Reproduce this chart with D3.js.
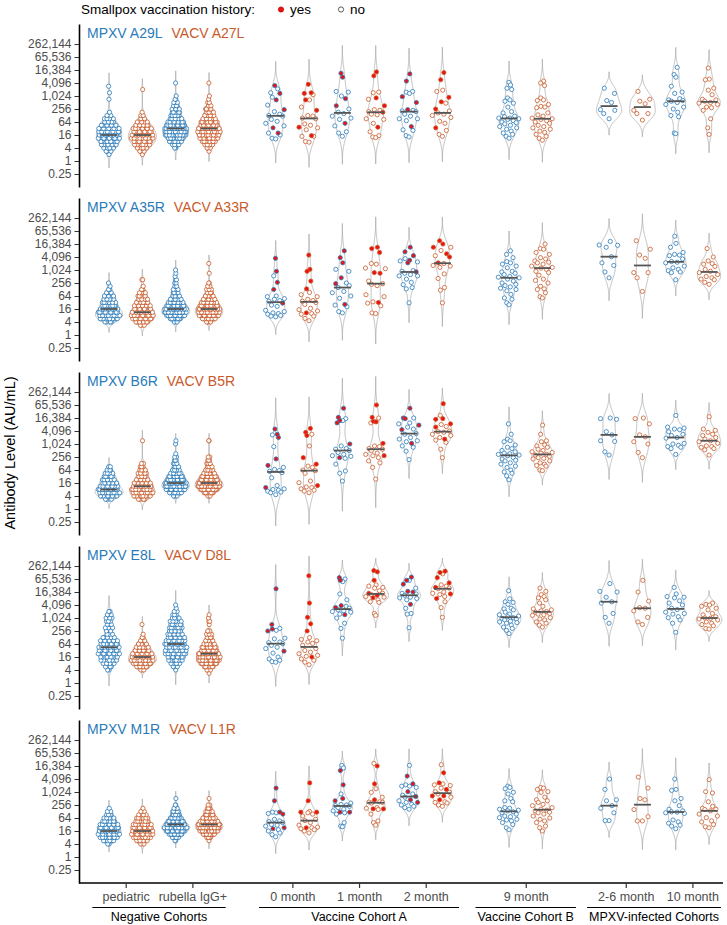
<!DOCTYPE html>
<html>
<head>
<meta charset="utf-8">
<script src="https://cdn.jsdelivr.net/npm/d3@7"></script>
<style>
  body { margin: 0; background: #fff; }
  svg { display: block; font-family: "Liberation Sans", Arial, sans-serif; }
</style>
</head>
<body>
<div id="chart"></div>
<script>
// Antibody levels (AU/mL) per antigen, cohort and time point.
// All values are stored as log2(AU/mL).

const categories = ['pediatric', 'rubella IgG+', '0 month', '1 month', '2 month', '9 month', '2-6 month', '10 month'];
const cohortNames = ['Negative Cohorts', 'Vaccine Cohort A', 'Vaccine Cohort B', 'MPXV-infected Cohorts'];
const cohortSizes = [2, 3, 1, 2];
const mpxvAntigens = ['MPXV A29L', 'MPXV A35R', 'MPXV B6R', 'MPXV E8L', 'MPXV M1R'];
const vacvAntigens = ['VACV A27L', 'VACV A33R', 'VACV B5R', 'VACV D8L', 'VACV L1R'];
const yTickValues = [0.25, 1, 4, 16, 64, 256, 1024, 4096, 16384, 65536, 262144];
const legendLabels = ['yes', 'no'];

// Negative cohorts: number of samples per half-log2 bin, first bin at log2 = 1.
// order: pediatric MPXV, pediatric VACV, rubella MPXV, rubella VACV
const negBinStart = 1;
const negBinStep = 0.5;
const negA29L = [
  [1, 3, 5, 7, 9, 10, 10, 10, 9, 8, 6, 4, 2, 1, 0, 0, 0, 1, 0, 1, 0, 1],
  [1, 3, 5, 8, 10, 11, 11, 10, 9, 7, 5, 3, 2, 1, 0, 0, 0, 0, 0, 0, 1],
  [0, 0, 2, 5, 9, 13, 16, 17, 16, 14, 11, 8, 7, 6, 5, 4, 3, 2, 1, 0, 0, 0, 1],
  [0, 1, 3, 6, 10, 13, 15, 16, 16, 14, 11, 9, 7, 6, 5, 3, 2, 1, 1, 0, 0, 0, 1],
];
const negA35R = [
  [0, 0, 5, 12, 14, 12, 10, 8, 7, 6, 6, 4, 2, 1, 1],
  [0, 3, 8, 12, 13, 12, 10, 8, 7, 6, 5, 4, 2, 1, 0, 2],
  [0, 0, 3, 10, 18, 22, 20, 16, 13, 10, 7, 5, 4, 3, 2, 2, 1, 1, 1],
  [0, 0, 4, 12, 18, 20, 19, 16, 13, 10, 8, 5, 4, 3, 2, 0, 0, 1, 0, 0, 1],
];
const negB6R = [
  [0, 4, 12, 15, 13, 10, 9, 8, 6, 5, 3, 2],
  [0, 5, 12, 14, 14, 10, 9, 8, 6, 5, 4, 3, 2, 0, 0, 0, 0, 0, 0, 1],
  [0, 0, 4, 12, 18, 22, 20, 16, 13, 10, 7, 5, 4, 3, 2, 1, 0, 0, 1, 1],
  [0, 0, 3, 10, 17, 22, 21, 17, 14, 10, 8, 5, 4, 3, 2, 0, 0, 0, 0, 2],
];
const negE8L = [
  [0, 0, 2, 3, 5, 7, 8, 9, 9, 9, 8, 7, 5, 3, 2, 3, 3, 3, 3, 3, 2],
  [0, 0, 3, 8, 12, 15, 14, 12, 10, 8, 6, 4, 2, 1, 0, 0, 1],
  [0, 0, 1, 3, 5, 8, 10, 12, 12, 12, 12, 11, 9, 8, 7, 7, 7, 6, 5, 3, 2, 1, 1],
  [0, 1, 3, 8, 14, 18, 19, 17, 14, 11, 9, 6, 5, 4, 3, 0, 1, 2, 1, 1],
];
const negM1R = [
  [0, 0, 2, 7, 11, 13, 13, 12, 10, 8, 6, 4, 2, 1],
  [0, 0, 3, 7, 11, 13, 13, 12, 10, 8, 7, 5, 3, 1],
  [0, 0, 0, 2, 7, 14, 20, 26, 21, 16, 12, 8, 6, 4, 2, 0, 1],
  [0, 0, 0, 1, 5, 12, 19, 24, 23, 18, 13, 9, 6, 4, 2, 0, 1],
];

// Vaccine / infected cohorts, donors without smallpox vaccination history.
// order: 0mo MPXV, 0mo VACV, 1mo MPXV, 1mo VACV, 2mo MPXV, 2mo VACV,
//        9mo MPXV, 9mo VACV, 2-6mo MPXV, 2-6mo VACV, 10mo MPXV, 10mo VACV
const openA29L = [
  [11.1, 10.5, 9.8, 8.6, 7.6, 7.2, 7.0, 6.9, 6.4, 6.1, 5.8, 5.4, 4.3, 4.0, 3.5, 3.4],
  [10.2, 9.4, 8.3, 7.0, 6.9, 6.6, 6.5, 5.7, 5.5, 5.1, 4.8, 3.8, 3.8, 3.0, 2.9],
  [10.7, 10.6, 10.0, 8.0, 7.5, 7.3, 6.9, 6.6, 6.4, 5.4, 4.5, 4.3, 3.8],
  [10.6, 10.5, 9.5, 7.9, 7.8, 7.6, 7.2, 7.1, 6.5, 6.4, 5.8, 4.5, 3.9, 3.7, 3.6],
  [10.7, 10.6, 10.4, 7.8, 7.7, 7.6, 7.2, 6.9, 6.5, 6.5, 6.2, 4.8, 4.7, 3.9, 3.7],
  [10.9, 10.7, 8.9, 7.7, 7.4, 7.2, 7.0, 6.7, 6.1, 5.8, 4.7, 4.1, 3.8],
  [12.1, 11.7, 11.2, 11.0, 9.7, 9.4, 9.2, 8.9, 8.3, 7.6, 7.4, 6.9, 6.8, 6.6, 6.6, 6.5, 6.4, 6.2, 6.0, 5.9, 5.7, 5.5, 5.3, 5.1, 4.9, 4.6, 4.3, 4.1, 3.8, 3.5],
  [12.3, 12.0, 11.6, 9.7, 9.4, 9.3, 8.7, 8.4, 8.3, 8.2, 7.4, 7.1, 6.9, 6.6, 6.5, 6.4, 6.2, 6.0, 5.8, 5.5, 5.3, 5.1, 4.9, 4.6, 4.4, 4.1, 3.8, 3.5, 3.2],
  [11.2, 10.4, 9.3, 9.0, 7.9, 7.8, 7.3, 6.5],
  [10.7, 9.5, 9.2, 8.8, 7.8, 7.3, 7.3, 6.3],
  [14.4, 13.3, 12.9, 11.5, 10.6, 10.4, 9.6, 9.4, 9.3, 9.2, 9.0, 8.7, 8.3, 8.0, 7.5, 7.0, 6.8, 4.3, 4.2],
  [14.3, 12.6, 12.5, 11.2, 10.9, 10.2, 9.5, 9.4, 9.2, 9.0, 8.9, 8.7, 8.3, 8.2, 7.8, 6.5, 5.1, 4.1],
];
const openA35R = [
  [9.1, 6.0, 5.9, 5.6, 5.5, 5.3, 5.2, 4.6, 4.4, 3.8, 3.6, 3.4, 3.3, 3.2, 3.0, 2.9, 2.8],
  [6.55, 6.2, 5.9, 5.5, 5.3, 5.2, 5.0, 4.7, 4.1, 3.9, 3.7, 3.3, 3.2, 2.9, 2.55, 2.2],
  [10.1, 9.8, 8.0, 7.6, 7.3, 6.7, 6.5, 6.0, 5.65, 4.6, 4.35, 3.6, 3.4],
  [11.0, 10.9, 10.3, 10.2, 8.3, 7.9, 7.8, 7.6, 6.2, 5.9, 5.1, 4.9, 4.5, 3.4, 3.3],
  [11.75, 11.4, 11.25, 9.9, 9.8, 9.5, 9.3, 9.1, 9.1, 8.6, 8.1, 7.75, 7.3, 7.1, 4.95],
  [13.5, 13.0, 12.2, 11.0, 10.7, 10.6, 10.4, 9.4, 8.7, 7.3, 6.9, 4.95],
  [12.95, 12.4, 11.9, 11.3, 11.1, 10.9, 10.6, 10.35, 9.8, 9.7, 9.5, 9.3, 9.0, 8.9, 8.8, 8.6, 8.3, 8.0, 7.8, 7.6, 7.4, 7.2, 7.0, 6.8, 6.25, 5.7, 5.5, 4.95, 4.65],
  [14.0, 13.3, 13.2, 12.7, 12.4, 11.9, 11.7, 11.4, 11.2, 11.1, 10.9, 10.6, 10.4, 10.3, 10.1, 9.8, 9.6, 9.2, 8.6, 8.4, 8.0, 7.5, 7.1, 7.0, 6.5, 5.9, 5.7],
  [14.4, 13.85, 13.8, 13.5, 12.05, 11.1, 10.7, 9.7, 8.8],
  [14.5, 13.2, 12.3, 11.8, 9.6, 9.6, 8.8, 6.7],
  [15.2, 14.1, 13.5, 12.7, 12.4, 12.3, 12.2, 11.7, 11.3, 11.2, 11.1, 10.6, 10.35, 10.1, 9.9, 9.7, 9.6, 8.5],
  [13.3, 12.0, 11.4, 11.0, 10.9, 10.55, 10.1, 9.8, 9.6, 9.3, 9.0, 8.8, 8.6, 8.5, 8.1, 7.8],
];
const openB6R = [
  [11.4, 9.6, 6.4, 6.1, 5.9, 5.8, 5.6, 4.8, 3.6, 3.1, 3.0, 2.9, 2.75, 2.6, 2.5, 2.2],
  [11.5, 9.7, 6.6, 6.4, 6.0, 5.9, 5.5, 4.3, 4.05, 3.4, 3.3, 3.1, 2.9, 2.75, 2.5],
  [13.9, 13.6, 9.7, 9.3, 9.2, 9.0, 8.7, 8.4, 8.2, 8.1, 7.8, 6.9, 5.85, 5.5, 4.3],
  [14.0, 13.25, 9.7, 9.6, 9.3, 9.2, 9.0, 8.6, 8.4, 8.2, 7.9, 7.4, 7.1, 6.4, 4.6],
  [14.0, 13.25, 13.1, 12.6, 12.3, 11.6, 11.5, 11.0, 10.75, 10.5, 10.35, 9.7, 9.5, 8.9, 7.6],
  [14.4, 13.0, 12.7, 12.0, 11.9, 11.8, 11.5, 11.3, 11.0, 10.6, 10.25, 9.2, 7.9],
  [13.1, 11.5, 10.75, 10.5, 10.35, 9.85, 9.5, 9.3, 9.0, 8.8, 8.6, 8.5, 8.4, 8.3, 8.2, 7.9, 7.7, 7.5, 7.4, 7.1, 6.9, 6.6, 6.4, 6.0, 5.7, 5.5, 5.1, 4.5],
  [12.9, 11.5, 10.5, 10.35, 9.85, 9.7, 9.5, 9.2, 9.0, 8.8, 8.7, 8.6, 8.4, 8.3, 8.1, 7.9, 7.8, 7.7, 7.4, 7.1, 6.9, 6.7, 6.6, 6.0, 5.9],
  [14.0, 13.9, 13.8, 11.9, 11.4, 10.5, 10.4, 8.8, 8.3],
  [14.0, 13.9, 13.1, 11.4, 11.1, 10.35, 10.0, 8.7, 7.9],
  [14.4, 12.6, 12.45, 12.3, 12.2, 11.9, 11.5, 11.3, 11.0, 10.9, 10.1, 10.0, 9.8, 9.6, 9.5, 9.3, 8.4],
  [14.2, 12.3, 12.1, 11.8, 11.5, 11.3, 11.0, 10.75, 10.5, 10.35, 10.1, 9.7, 9.6, 9.5, 9.3, 9.1, 8.3],
];
const openE8L = [
  [8.4, 8.1, 6.9, 6.8, 6.3, 6.2, 6.05, 5.8, 5.5, 5.3, 4.6, 4.0, 3.7, 3.5, 3.3, 3.2],
  [7.0, 6.7, 6.5, 6.3, 6.1, 5.8, 5.3, 5.0, 4.75, 4.5, 4.25, 4.1, 3.7, 3.5, 3.2, 2.8],
  [16.0, 15.6, 13.7, 12.8, 11.8, 11.5, 11.25, 11.1, 11.0, 10.9, 10.6, 10.0, 9.2, 8.4, 6.9],
  [15.1, 14.9, 14.7, 14.6, 14.2, 13.8, 13.6, 13.3, 13.2, 12.8, 12.5, 12.4, 10.7, 10.4],
  [15.8, 14.6, 13.8, 13.7, 13.5, 13.2, 13.1, 13.0, 12.8, 11.5, 10.7, 10.6, 8.5],
  [16.8, 15.1, 14.9, 14.6, 14.5, 14.0, 13.8, 13.6, 13.3, 12.5, 11.6, 10.1],
  [14.2, 12.95, 12.5, 12.4, 12.1, 11.5, 11.4, 11.25, 10.9, 10.6, 10.5, 10.3, 10.2, 10.05, 9.95, 9.85, 9.7, 9.5, 9.4, 9.3, 9.2, 8.9, 8.6, 8.4, 8.1, 7.6],
  [14.6, 14.1, 13.6, 13.3, 13.1, 12.8, 12.3, 11.8, 11.4, 11.25, 11.1, 11.0, 10.9, 10.7, 10.6, 10.5, 10.4, 10.05, 9.85, 9.7, 9.4, 9.2, 8.9, 8.6],
  [15.3, 14.1, 14.0, 13.2, 12.5, 12.3, 10.7, 10.1, 9.2],
  [15.8, 14.0, 12.6, 11.6, 11.5, 11.1, 10.1, 9.4, 9.0],
  [14.7, 13.7, 13.3, 13.2, 13.1, 12.65, 12.3, 12.0, 11.5, 11.3, 10.9, 10.7, 10.6, 10.2, 10.05, 9.7, 9.2, 7.8],
  [12.3, 12.1, 12.0, 11.8, 11.5, 11.25, 10.7, 10.5, 10.2, 10.0, 9.95, 9.85, 9.7, 9.4, 9.2, 9.0, 8.8, 8.4, 8.3],
];
const openM1R = [
  [6.9, 6.8, 6.7, 5.8, 5.55, 5.45, 5.3, 5.0, 4.9, 4.75, 4.2, 4.0, 3.7, 3.45, 3.1],
  [7.0, 6.8, 6.6, 6.3, 5.8, 5.6, 5.3, 4.9, 4.6, 4.5, 4.35, 4.2, 4.0, 3.7],
  [14.1, 13.7, 9.7, 8.3, 8.1, 8.0, 7.9, 7.8, 7.6, 7.35, 7.1, 6.8, 6.6, 5.3, 4.75, 4.65],
  [14.4, 10.5, 9.95, 9.2, 8.5, 8.45, 8.4, 8.3, 7.6, 7.5, 7.3, 6.6, 5.55, 5.3, 4.9],
  [14.1, 11.1, 10.9, 10.9, 10.7, 9.7, 9.5, 9.2, 8.65, 8.4, 8.1, 8.0, 7.8, 7.6, 7.35],
  [14.2, 11.25, 11.1, 11.0, 10.6, 10.05, 9.95, 9.7, 9.2, 8.5, 8.4, 8.3, 8.0, 7.8],
  [10.9, 10.7, 10.5, 9.95, 9.7, 9.0, 8.65, 8.5, 7.6, 7.5, 7.35, 7.2, 7.1, 6.95, 6.8, 6.6, 6.3, 6.2, 6.05, 5.8, 5.7, 5.55, 5.3, 5.0, 4.5, 4.2],
  [10.7, 10.6, 10.4, 10.05, 9.95, 9.2, 8.8, 8.65, 8.4, 8.1, 7.9, 7.6, 7.35, 7.2, 7.1, 6.9, 6.8, 6.6, 6.3, 6.0, 5.8, 5.55, 5.3, 4.75, 4.5, 4.0],
  [12.0, 10.4, 8.8, 8.65, 7.9, 7.5, 6.8, 5.6, 5.6],
  [12.3, 10.6, 9.0, 8.8, 7.3, 6.2, 5.55, 5.55],
  [12.0, 10.4, 10.25, 9.0, 8.65, 7.9, 7.35, 7.1, 6.95, 6.9, 6.8, 6.7, 5.7, 5.4, 5.2, 4.9, 4.75, 4.35],
  [11.9, 10.05, 9.85, 8.5, 7.8, 7.5, 7.35, 7.3, 7.1, 6.6, 6.3, 6.05, 5.55, 5.4, 5.0, 4.65, 4.5],
];

// Vaccine Cohort A donors with smallpox vaccination history (red points).
// order: 0mo MPXV, 0mo VACV, 1mo MPXV, 1mo VACV, 2mo MPXV, 2mo VACV
const yesA29L = [
  [11.6, 10.4, 9.4, 7.9, 5.1, 4.3],
  [11.8, 10.5, 10.4, 9.4, 7.8, 5.2, 3.9],
  [13.5, 12.9, 9.6, 8.5, 5.8],
  [13.7, 13.1, 9.7, 8.5, 7.5, 5.2],
  [13.4, 12.3, 9.9, 9.0, 7.9, 5.3],
  [13.6, 12.5, 9.8, 9.1, 8.0, 5.1],
];
const yesA35R = [
  [11.8, 9.8, 8.1, 7.0, 4.9],
  [12.3, 10.1, 9.8, 8.3, 7.1, 3.4],
  [12.95, 11.9, 11.1, 8.8, 7.9, 4.7],
  [13.5, 13.3, 12.7, 9.6, 9.5, 5.0],
  [13.5, 12.8, 12.2, 11.5, 11.1, 9.7],
  [14.5, 14.0, 13.5, 12.5, 12.0, 11.1],
];
const yesB6R = [
  [12.3, 11.5, 11.0, 7.7, 6.7, 3.3],
  [12.4, 11.8, 11.3, 7.9, 6.9, 3.6],
  [15.5, 14.1, 13.6, 13.25, 10.0, 7.9],
  [16.0, 14.1, 13.5, 13.4, 10.1, 8.2],
  [15.5, 14.0, 13.9, 12.9, 12.2, 10.1],
  [16.2, 13.9, 13.8, 13.1, 12.6, 10.75],
];
const yesE8L = [
  [14.5, 9.0, 8.3, 8.0, 4.9],
  [16.5, 12.3, 10.1, 9.1, 8.0, 4.0],
  [16.2, 15.8, 11.9, 11.6, 10.5],
  [17.3, 17.1, 15.8, 13.8, 13.5, 13.1],
  [16.3, 15.8, 15.2, 14.1, 14.0, 12.1],
  [17.2, 17.0, 16.2, 15.4, 14.7, 13.7, 13.0],
];
const yesM1R = [
  [10.6, 8.65, 6.9, 6.6, 4.5, 4.35],
  [11.4, 8.65, 6.9, 6.9, 4.5],
  [13.3, 11.1, 9.0, 8.65, 6.9, 6.9],
  [14.0, 11.25, 8.8, 7.4, 7.4],
  [12.45, 11.25, 10.05, 9.3, 8.8, 8.4],
  [12.95, 11.4, 10.4, 9.4, 9.4, 8.8],
];

const negData = [negA29L, negA35R, negB6R, negE8L, negM1R];
const openData = [openA29L, openA35R, openB6R, openE8L, openM1R];
const yesData = [yesA29L, yesA35R, yesB6R, yesE8L, yesM1R];

const mpxvColor = '#2a7ab9';
const vacvColor = '#c95a2a';
const yesColor = '#ee1111';
const fontFamily = '"Liberation Sans", Arial, sans-serif';

// vanDerCorput()
// base-2 van der Corput number for index i (i >= 1), used for quasirandom point offsets
function vanDerCorput(i) {
  let v = 0, denom = 1;
  while (i > 0) {
    denom *= 2;
    v += (i % 2) / denom;
    i = Math.floor(i / 2);
  }
  return v;
}

// bandwidthNrd0()
// same rule as R's bw.nrd0
function bandwidthNrd0(vals) {
  const s = d3.deviation(vals);
  const sorted = vals.slice().sort(d3.ascending);
  const iqr = (d3.quantile(sorted, 0.75) - d3.quantile(sorted, 0.25)) / 1.34;
  let lo = Math.min(s, iqr);
  if (!(lo > 0)) lo = s || 1;
  return 0.9 * lo * Math.pow(vals.length, -0.2);
}

function gaussKde(vals, bw, t) {
  const c = 1 / (vals.length * bw * Math.sqrt(2 * Math.PI));
  return c * d3.sum(vals, v => Math.exp(-0.5 * ((t - v) / bw) * ((t - v) / bw)));
}

class AntibodyViolinD3 {

  constructor(options) {
    this.options = Object.assign({}, options);
    this.svg = null;
  }

  // initDiagram()
  // builds the svg and draws legend, the five antigen panels and the shared x axis
  initDiagram() {
    this.svg = this.createSvg(d3.select('#' + this.options.elementId), this.options.elementWidth, this.options.elementHeight);
    this.xScale = d3.scaleLinear().domain([0, 8.5]).range([125.7, 692.4]);
    // slot of each category on the x scale, half a slot gap between cohorts
    this.slots = [];
    let k = 0;
    cohortSizes.forEach((n, g) => {
      for (let i = 0; i < n; i++) {
        this.slots.push(k + 0.5 * g);
        k++;
      }
    });
    this.drawLegend();
    for (let p = 0; p < mpxvAntigens.length; p++) {
      this.drawPanel(p);
    }
    this.drawXAxis();
    this.svg.append('text')
      .attr('transform', 'translate(15,453) rotate(-90)')
      .attr('text-anchor', 'middle')
      .attr('font-size', 14.5)
      .attr('fill', '#000')
      .text('Antibody Level (AU/mL)');
  }

  createSvg(container, width, height) {
    return container
      .append('svg')
      .attr('width', width)
      .attr('height', height)
      .attr('style', 'background-color:white');
  }

  drawLegend() {
    const lg = this.svg.append('g');
    lg.append('text').attr('x', 81).attr('y', 14).attr('font-size', 13.5).text('Smallpox vaccination history:');
    lg.append('circle').attr('cx', 281).attr('cy', 9.5).attr('r', 2.6).attr('fill', yesColor).attr('stroke', '#b00').attr('stroke-width', 0.8);
    lg.append('text').attr('x', 290).attr('y', 14).attr('font-size', 13.5).text(legendLabels[0]);
    lg.append('circle').attr('cx', 341).attr('cy', 9.5).attr('r', 2.6).attr('fill', '#fff').attr('stroke', '#333').attr('stroke-width', 0.8);
    lg.append('text').attr('x', 350).attr('y', 14).attr('font-size', 13.5).text(legendLabels[1]);
  }

  // buildGroups()
  // turns the data arrays of panel p into one list of values per violin
  buildGroups(p) {
    const groups = [];
    categories.forEach((cat, c) => {
      [0, 1].forEach(side => {
        const pts = [];
        if (c < 2) {
          negData[p][c * 2 + side].forEach((n, i) => {
            for (let j = 0; j < n; j++) pts.push({ v: negBinStart + i * negBinStep, yes: false });
          });
        } else {
          const idx = (c - 2) * 2 + side;
          openData[p][idx].forEach(v => pts.push({ v: v, yes: false }));
          if (idx < yesData[p].length) yesData[p][idx].forEach(v => pts.push({ v: v, yes: true }));
        }
        const cx = this.xScale(this.slots[c] + (side === 0 ? -0.25 : 0.25));
        groups.push({ cx: cx, side: side, pts: pts });
      });
    });
    groups.forEach(gr => {
      const vals = gr.pts.map(d => d.v);
      const bw = bandwidthNrd0(vals);
      const lo = d3.min(vals) - 3 * bw, hi = d3.max(vals) + 3 * bw;
      gr.curve = d3.range(201).map(i => {
        const t = lo + (hi - lo) * i / 200;
        return [t, gaussKde(vals, bw, t)];
      });
      gr.maxDens = d3.max(gr.curve, d => d[1]);
      gr.median = d3.median(vals);
      // quasirandom offsets (ranked van der Corput sequence scaled by density)
      const order = d3.range(gr.pts.length).sort((a, b) => gr.pts[a].v - gr.pts[b].v || a - b);
      order.forEach((pi, rank) => {
        const d = gr.pts[pi];
        d.dx = (vanDerCorput(rank + 1) - 0.5) * 2 * gaussKde(vals, bw, d.v) / gr.maxDens * 11.5;
      });
    });
    return groups;
  }

  // drawPanel()
  // one antigen pair: y axis, violins, points and medians
  drawPanel(p) {
    const top = 24 + 174 * p;
    const h = 163;
    const y = d3.scaleLog().base(2).domain([Math.pow(2, -4), Math.pow(2, 21.08)]).range([top + h, top]);
    const g = this.svg.append('g');

    const axis = d3.axisLeft(y)
      .tickValues(yTickValues)
      .tickSize(4.5)
      .tickSizeOuter(0)
      .tickFormat(d => (d < 1 ? d3.format('.2f')(d) : d3.format(',')(d)));
    const ag = g.append('g').attr('transform', 'translate(79,0)').call(axis);
    ag.select('.domain').attr('stroke', '#000').attr('stroke-width', 1.6);
    ag.selectAll('.tick line').attr('stroke', '#333').attr('stroke-width', 1);
    ag.selectAll('.tick text')
      .attr('fill', '#4d4d4d')
      .attr('font-size', 12)
      .attr('font-family', fontFamily);

    const t1 = g.append('text').attr('x', 87).attr('y', top + 14).attr('font-size', 14).attr('fill', mpxvColor).text(mpxvAntigens[p]);
    const w1 = t1.node().getComputedTextLength();
    g.append('text').attr('x', 87 + w1 + 9).attr('y', top + 14).attr('font-size', 14).attr('fill', vacvColor).text(vacvAntigens[p]);

    const clipId = 'clip' + p;
    g.append('clipPath').attr('id', clipId).append('rect').attr('x', 80).attr('y', top).attr('width', 647).attr('height', h);
    const plot = g.append('g').attr('clip-path', 'url(#' + clipId + ')');

    const groups = this.buildGroups(p);
    const maxDens = d3.max(groups, gr => gr.maxDens);
    const halfWidth = 14;

    groups.forEach(gr => {
      const area = d3.area()
        .y(d => y(Math.pow(2, d[0])))
        .x0(d => gr.cx - d[1] / maxDens * halfWidth)
        .x1(d => gr.cx + d[1] / maxDens * halfWidth);
      plot.append('path')
        .attr('d', area(gr.curve))
        .attr('fill', 'none')
        .attr('stroke', '#a3a3a3')
        .attr('stroke-width', 0.7);
    });

    groups.forEach(gr => {
      const color = gr.side === 0 ? mpxvColor : vacvColor;
      const pts = gr.pts.filter(d => !d.yes).concat(gr.pts.filter(d => d.yes));
      plot.append('g')
        .selectAll('circle')
        .data(pts)
        .enter()
        .append('circle')
        .attr('cx', d => gr.cx + d.dx)
        .attr('cy', d => y(Math.pow(2, d.v)))
        .attr('r', 2.1)
        .attr('fill', d => (d.yes ? yesColor : '#fff'))
        .attr('stroke', color)
        .attr('stroke-width', 0.8);
    });

    groups.forEach(gr => {
      plot.append('line')
        .attr('x1', gr.cx - 8.5)
        .attr('x2', gr.cx + 8.5)
        .attr('y1', y(Math.pow(2, gr.median)))
        .attr('y2', y(Math.pow(2, gr.median)))
        .attr('stroke', '#555')
        .attr('stroke-width', 1.8);
    });
  }

  // drawXAxis()
  // category ticks below the last panel plus cohort brackets
  drawXAxis() {
    const yAxis = 24 + 174 * 4 + 163;
    this.svg.append('line')
      .attr('x1', 79).attr('x2', 723).attr('y1', yAxis).attr('y2', yAxis)
      .attr('stroke', '#000').attr('stroke-width', 1.6);
    const axis = d3.axisBottom(this.xScale)
      .tickValues(this.slots)
      .tickFormat((d, i) => categories[i])
      .tickSize(5)
      .tickSizeOuter(0)
      .tickPadding(4);
    const ag = this.svg.append('g').attr('transform', 'translate(0,' + yAxis + ')').call(axis);
    ag.select('.domain').remove();
    ag.selectAll('.tick line').attr('stroke', '#333').attr('stroke-width', 1.2);
    ag.selectAll('.tick text')
      .attr('fill', '#4d4d4d')
      .attr('font-size', 12.5)
      .attr('font-family', fontFamily);

    let k = 0;
    cohortNames.forEach((name, gi) => {
      const first = this.slots[k], last = this.slots[k + cohortSizes[gi] - 1];
      k += cohortSizes[gi];
      let x1 = this.xScale(first - 0.5), x2 = this.xScale(last + 0.5);
      const label = this.svg.append('text')
        .attr('y', 921)
        .attr('font-size', 12.5)
        .attr('text-anchor', 'middle')
        .attr('fill', '#000')
        .text(name);
      const tw = label.node().getComputedTextLength() + 4;
      if (tw > x2 - x1) {
        const mid = (x1 + x2) / 2;
        x1 = mid - tw / 2;
        x2 = mid + tw / 2;
      }
      if (x2 > 721) {
        x1 -= x2 - 721;
        x2 = 721;
      }
      label.attr('x', (x1 + x2) / 2);
      this.svg.append('line')
        .attr('x1', x1).attr('x2', x2).attr('y1', 907.5).attr('y2', 907.5)
        .attr('stroke', '#000').attr('stroke-width', 1);
    });
  }
}

const chart = new AntibodyViolinD3({ elementId: 'chart', elementWidth: 727, elementHeight: 925 });
chart.initDiagram();
</script>
</body>
</html>
